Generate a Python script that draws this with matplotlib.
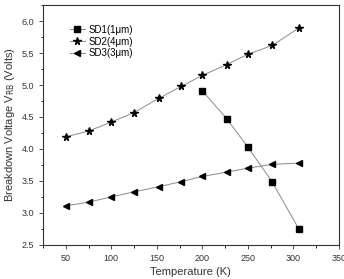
import matplotlib
matplotlib.use('Agg')
import matplotlib.pyplot as plt
from matplotlib.ticker import MultipleLocator

plt.rcParams['font.family'] = ['Liberation Sans', 'DejaVu Sans']

## Data
temp_sd1 = [200, 227, 250, 277, 306]  # Temperature [K]
vrb_sd1 = [4.91, 4.47, 4.03, 3.48, 2.75]  # Breakdown voltage [V]
temp_sd2 = [50, 75, 100, 125, 152, 177, 200, 227, 250, 277, 306]
vrb_sd2 = [4.19, 4.28, 4.42, 4.57, 4.79, 4.98, 5.15, 5.32, 5.48, 5.62, 5.89]
temp_sd3 = [50, 75, 100, 125, 152, 177, 200, 227, 250, 277, 306]
vrb_sd3 = [3.11, 3.17, 3.25, 3.33, 3.41, 3.49, 3.57, 3.64, 3.70, 3.76, 3.78]

fig = plt.figure(figsize=(3.44, 2.79), dpi=100)
ax = fig.add_axes([0.125, 0.122, 0.86, 0.86])

lc = '#8a8a8a'  # thin grey connecting lines
ax.plot(temp_sd1, vrb_sd1, color=lc, lw=0.7, marker='s', ms=3.8,
        mfc='black', mec='black', label='SD1(1\u03bcm)')
ax.plot(temp_sd2, vrb_sd2, color=lc, lw=0.7, marker='*', ms=5.5,
        mfc='black', mec='black', label='SD2(4\u03bcm)')
ax.plot(temp_sd3, vrb_sd3, color=lc, lw=0.7, marker='<', ms=4.5,
        mfc='black', mec='black', label='SD3(3\u03bcm)')

ax.set_xlim(25, 350)
ax.set_ylim(2.5, 6.25)
ax.xaxis.set_major_locator(MultipleLocator(50))
ax.xaxis.set_minor_locator(MultipleLocator(25))
ax.yaxis.set_major_locator(MultipleLocator(0.5))
ax.yaxis.set_minor_locator(MultipleLocator(0.25))
ax.tick_params(which='major', direction='out', length=3, width=0.6,
               labelsize=6.5, colors='#333333')
ax.tick_params(which='minor', direction='out', length=1.8, width=0.6)
for s in ax.spines.values():
    s.set_linewidth(0.8)
    s.set_color('#333333')

ax.set_xlabel('Temperature (K)', fontsize=8, color='#333333', labelpad=3)
ax.set_ylabel('Breakdown Voltage V$_{\\mathrm{RB}}$ (Volts)', fontsize=8,
              color='#333333', labelpad=3)

ax.legend(loc='upper left', bbox_to_anchor=(0.06, 0.955), frameon=False,
          fontsize=7, handlelength=1.6, labelspacing=0.2,
          handletextpad=0.35)

fig.savefig('out.png', dpi=100)
